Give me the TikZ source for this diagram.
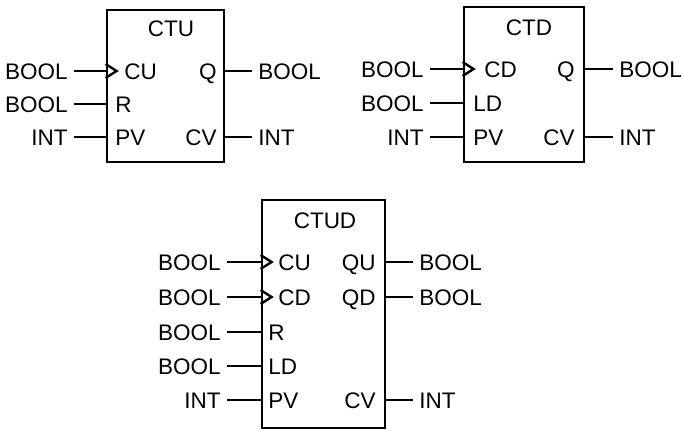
\documentclass[tikz,border=0pt]{standalone}
\usepackage{fontspec}
\setmainfont{Liberation Sans}

\begin{document}
\begin{tikzpicture}[x=0.025cm,y=-0.025cm,font=\fontsize{16}{19}\selectfont,
    blk/.style={draw,line width=2pt,inner sep=0pt},
    io/.style={inner xsep=0.15cm,inner ysep=0pt,text height=11.4pt,text depth=0pt},
    pin/.style={inner sep=0pt,text height=11.4pt,text depth=0pt},
    wire/.style={line width=1.7pt},
    clk/.style={line width=1.7pt,line join=miter}]
           \useasboundingbox (0,0) rectangle (682,430);

           % CTU
           \node[blk,minimum width=2.925cm,minimum height=3.8cm] (ctu) at (165.5,86) {};
           \node[pin] (ctuT) at (171,28) {CTU};
           \node[pin,anchor=west] (ctuCU) at (124,71) {CU};
           \node[pin,anchor=west] (ctuR) at (115,104) {R};
           \node[pin,anchor=west] (ctuPV) at (115,137) {PV};
           \node[pin,anchor=east] (ctuQ) at (217,71) {Q};
           \node[pin,anchor=east] (ctuCV) at (217,137) {CV};
           \node[io,anchor=east] (ctuA) at (74,71) {BOOL};
           \node[io,anchor=east] (ctuB) at (74,104) {BOOL};
           \node[io,anchor=east] (ctuC) at (74,137) {INT};
           \node[io,anchor=west] (ctuD) at (252,71) {BOOL};
           \node[io,anchor=west] (ctuE) at (252,137) {INT};

           \draw[wire] (ctuA) edge (ctu.west |- ctuA);
           \draw[wire] (ctuB) edge (ctu.west |- ctuB);
           \draw[wire] (ctuC) edge (ctu.west |- ctuC);
           \draw[wire] (ctu.east |- ctuD) edge (ctuD);
           \draw[wire] (ctu.east |- ctuE) edge (ctuE);
           \draw[clk] (ctu.west |- ctuA) ++(0,-7) -- ++(11,7) -- ++(-11,7);

           % CTD
           \node[blk,minimum width=3cm,minimum height=3.875cm] (ctd) at (524,84.5) {};
           \node[pin] (ctdT) at (529,27) {CTD};
           \node[pin,anchor=west] (ctdCD) at (484,69) {CD};
           \node[pin,anchor=west] (ctdLD) at (473,103) {LD};
           \node[pin,anchor=west] (ctdPV) at (473,137) {PV};
           \node[pin,anchor=east] (ctdQ) at (575,69) {Q};
           \node[pin,anchor=east] (ctdCV) at (575,137) {CV};
           \node[io,anchor=east] (ctdA) at (430,69) {BOOL};
           \node[io,anchor=east] (ctdB) at (430,103) {BOOL};
           \node[io,anchor=east] (ctdC) at (430,137) {INT};
           \node[io,anchor=west] (ctdD) at (613,69) {BOOL};
           \node[io,anchor=west] (ctdE) at (613,137) {INT};

           \draw[wire] (ctdA) edge (ctd.west |- ctdA);
           \draw[wire] (ctdB) edge (ctd.west |- ctdB);
           \draw[wire] (ctdC) edge (ctd.west |- ctdC);
           \draw[wire] (ctd.east |- ctdD) edge (ctdD);
           \draw[wire] (ctd.east |- ctdE) edge (ctdE);
           \draw[clk] (ctd.west |- ctdA) ++(0,-7) -- ++(11,7) -- ++(-11,7);

           % CTUD
           \node[blk,minimum width=3.075cm,minimum height=5.7cm] (ctud) at (323.5,314) {};
           \node[pin] (ctudT) at (325,220) {CTUD};
           \node[pin,anchor=west] (ctudCU) at (278,262) {CU};
           \node[pin,anchor=west] (ctudCD) at (278,297) {CD};
           \node[pin,anchor=west] (ctudR) at (268,332) {R};
           \node[pin,anchor=west] (ctudLD) at (268,366) {LD};
           \node[pin,anchor=west] (ctudPV) at (268,400) {PV};
           \node[pin,anchor=east] (ctudQU) at (376,262) {QU};
           \node[pin,anchor=east] (ctudQD) at (376,297) {QD};
           \node[pin,anchor=east] (ctudCV) at (376,400) {CV};
           \node[io,anchor=east] (ctudA) at (227,262) {BOOL};
           \node[io,anchor=east] (ctudB) at (227,297) {BOOL};
           \node[io,anchor=east] (ctudC) at (227,332) {BOOL};
           \node[io,anchor=east] (ctudD) at (227,366) {BOOL};
           \node[io,anchor=east] (ctudE) at (227,400) {INT};
           \node[io,anchor=west] (ctudF) at (413,262) {BOOL};
           \node[io,anchor=west] (ctudG) at (413,297) {BOOL};
           \node[io,anchor=west] (ctudH) at (413,400) {INT};

           \draw[wire] (ctudA) edge (ctud.west |- ctudA);
           \draw[wire] (ctudB) edge (ctud.west |- ctudB);
           \draw[wire] (ctudC) edge (ctud.west |- ctudC);
           \draw[wire] (ctudD) edge (ctud.west |- ctudD);
           \draw[wire] (ctudE) edge (ctud.west |- ctudE);
           \draw[wire] (ctud.east |- ctudF) edge (ctudF);
           \draw[wire] (ctud.east |- ctudG) edge (ctudG);
           \draw[wire] (ctud.east |- ctudH) edge (ctudH);
           \draw[clk] (ctud.west |- ctudA) ++(0,-7) -- ++(11,7) -- ++(-11,7);
           \draw[clk] (ctud.west |- ctudB) ++(0,-7) -- ++(11,7) -- ++(-11,7);
         \end{tikzpicture}
\end{document}
